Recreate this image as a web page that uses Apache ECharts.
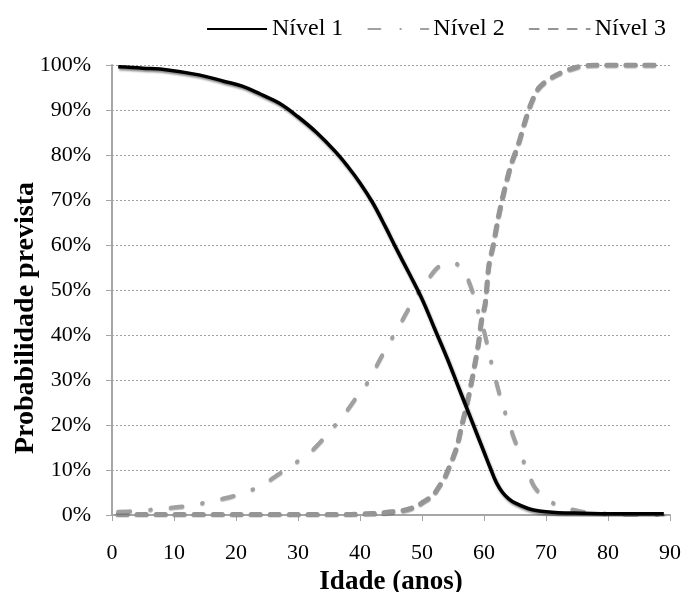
<!DOCTYPE html>
<html>
<head>
<meta charset="utf-8">
<script src="https://cdn.jsdelivr.net/npm/echarts@6/dist/echarts.min.js"></script>
<style>
html,body{margin:0;padding:0;background:#fff;}
#chart{width:683px;height:592px;}
</style>
</head>
<body>
<div id="chart"></div>
<script>
// ---- data ----
const seriesNames = ['Nível 1', 'Nível 2', 'Nível 3'];
const xTicks = [0, 10, 20, 30, 40, 50, 60, 70, 80, 90];
const yTicks = [0, 10, 20, 30, 40, 50, 60, 70, 80, 90, 100];

const ages1 = [1, 5, 9, 14, 18, 21, 24, 27, 30, 33, 36, 38, 40, 42, 44, 46, 48, 50, 52, 54, 56, 58, 60, 61, 62, 63, 64, 65, 67, 68, 70, 72, 76, 80, 85, 89];
const nivel1 = [99.6, 99.3, 98.9, 97.8, 96.4, 95.3, 93.5, 91.5, 88.5, 85, 80.8, 77.5, 73.8, 69.5, 64.3, 58.8, 53.5, 48, 41.5, 35, 28, 21, 14, 10.5, 7.2, 5, 3.6, 2.7, 1.5, 1.1, 0.7, 0.5, 0.4, 0.3, 0.3, 0.3];

const ages2 = [1, 4, 7, 10, 13, 16, 19, 22, 24.5, 27, 29.5, 32, 34, 36, 38, 40, 41.5, 43, 44.5, 46, 47.5, 49, 50.5, 52.5, 54, 55, 56, 57, 58.2, 59, 60, 61, 62, 63, 64, 65, 66, 67, 68, 69, 70, 71, 72, 74, 76, 80, 85, 89];
const nivel2 = [0.7, 0.9, 1.3, 1.7, 2.2, 3.1, 4, 5.3, 6.9, 9.2, 11.5, 14, 16.8, 20, 23.4, 27.3, 30, 34, 37.8, 41.2, 45, 48.6, 51.5, 55, 56, 56.2, 55.4, 53.7, 49.5, 45.5, 41, 35, 29.5, 24.5, 20.5, 16.5, 13.3, 9.8, 6.6, 4.8, 3.6, 2.8, 2.1, 1.3, 0.7, 0.3, 0.2, 0.1];

const ages3 = [1, 10, 20, 30, 38, 41, 43, 45, 47.3, 49.2, 50.2, 51.8, 52.6, 53.7, 54.2, 55, 55.7, 56.4, 57.2, 57.9, 58.5, 59.1, 59.6, 60.2, 60.8, 61.5, 62.3, 63, 63.8, 64.5, 65.6, 66.5, 67.5, 68.9, 71.7, 74.9, 78, 85, 89];
const nivel3 = [0.1, 0.1, 0.1, 0.1, 0.1, 0.3, 0.4, 0.7, 1.1, 2, 2.9, 4.4, 6, 8.4, 10, 12.7, 15.5, 19.8, 24.3, 28.9, 33.3, 38, 43.2, 47, 55.5, 60, 66, 70.5, 75, 78.4, 82.6, 86.9, 91.1, 95, 97.8, 99.5, 100, 100, 100];

function pairs(xs, ys) { return xs.map((x, i) => [x, ys[i]]); }

const FONT = '"Liberation Serif", "Times New Roman", serif';

const chart = echarts.init(document.getElementById('chart'), null, {renderer: 'canvas'});
chart.setOption({
  animation: false,
  backgroundColor: '#fff',
  textStyle: {fontFamily: FONT},
  grid: {left: 112, right: 13, top: 65, bottom: 77, containLabel: false, outerBoundsMode: 'none'},
  legend: {
    right: 12, top: 12,
    itemWidth: 60, itemHeight: 20, itemGap: 24,
    itemStyle: {opacity: 0},
    textStyle: {fontFamily: FONT, fontSize: 24, color: '#000', padding: [0, 0, 0, 0]},
    data: seriesNames
  },
  xAxis: {
    type: 'value', min: xTicks[0], max: xTicks[xTicks.length - 1], interval: 10,
    name: 'Idade (anos)', nameLocation: 'middle', nameGap: 50,
    nameTextStyle: {fontFamily: FONT, fontSize: 27, fontWeight: 'bold', color: '#000'},
    axisLine: {lineStyle: {color: '#a6a6a6', width: 2}},
    axisTick: {show: true, length: 6, lineStyle: {color: '#a6a6a6', width: 1}},
    axisLabel: {fontFamily: FONT, fontSize: 22, color: '#000', margin: 27},
    splitLine: {show: false}
  },
  yAxis: {
    type: 'value', min: yTicks[0], max: yTicks[yTicks.length - 1], interval: 10,
    axisLine: {show: true, lineStyle: {color: '#a6a6a6', width: 2}},
    axisTick: {show: true, length: 6, lineStyle: {color: '#a6a6a6', width: 1}},
    axisLabel: {fontFamily: FONT, fontSize: 22, color: '#000', margin: 21, formatter: '{value}%'},
    splitLine: {show: true, lineStyle: {color: '#a0a0a0', width: 1, type: [2, 2]}}
  },
  graphic: [{
    type: 'text',
    x: 26, y: 318,
    rotation: Math.PI / 2,
    style: {
      text: 'Probabilidade prevista',
      font: 'bold 28px "Liberation Serif", "Times New Roman", serif',
      fill: '#000',
      align: 'center',
      verticalAlign: 'middle'
    }
  }],
  series: [
    {
      name: seriesNames[0], type: 'line', data: pairs(ages1, nivel1),
      symbol: 'none', smooth: 0.4, z: 4,
      lineStyle: {color: '#000', width: 3.5, shadowColor: 'rgba(0,0,0,0.45)', shadowBlur: 2, shadowOffsetX: 1, shadowOffsetY: 2},
      itemStyle: {color: '#000'}
    },
    {
      name: seriesNames[1], type: 'line', data: pairs(ages2, nivel2),
      symbol: 'none', smooth: 0.3, z: 3,
      lineStyle: {color: '#a0a0a0', width: 4, type: [12, 20, 0.5, 20], cap: 'round',
        shadowColor: 'rgba(0,0,0,0.3)', shadowBlur: 1, shadowOffsetY: 1},
      itemStyle: {color: '#a0a0a0'}
    },
    {
      name: seriesNames[2], type: 'line', data: pairs(ages3, nivel3),
      symbol: 'none', smooth: 0.3, z: 2,
      lineStyle: {color: '#959595', width: 5, type: [9, 10], cap: 'round',
        shadowColor: 'rgba(0,0,0,0.3)', shadowBlur: 1, shadowOffsetY: 1},
      itemStyle: {color: '#959595'}
    }
  ]
});
</script>
</body>
</html>
